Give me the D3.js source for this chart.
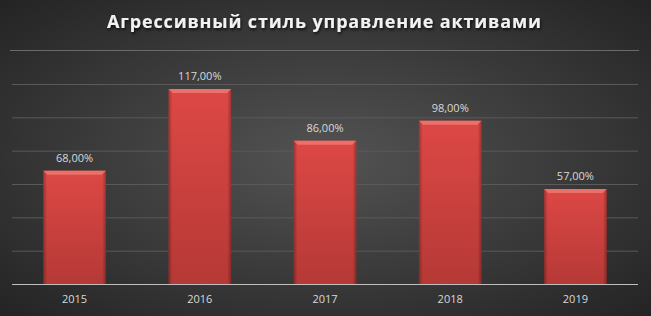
<!DOCTYPE html>
<html>
<head>
<meta charset="utf-8">
<script src="https://cdn.jsdelivr.net/npm/d3@7"></script>
<style>
  body { margin: 0; background: #2b2b2b; }
  svg { display: block; }
  .lbl { font-family: "Open Sans", "Noto Sans", sans-serif; font-size: 11px; fill: #d9d9d9; }
</style>
</head>
<body>
<div id="chart"></div>
<script>
// chart data
var years = ["2015", "2016", "2017", "2018", "2019"];
var values = [68, 117, 86, 98, 57];
var yTicks = [0, 20, 40, 60, 80, 100, 120];
var title = "Агрессивный стиль управление активами";

var W = 651, H = 316;
var margin = { top: 84, right: 13, bottom: 32, left: 12 },
    width = W - margin.left - margin.right,
    height = H - margin.top - margin.bottom;

var svg = d3.select("#chart")
    .append("svg")
    .attr("width", W)
    .attr("height", H);

var defs = svg.append("defs");

// background radial gradient
var bg = defs.append("radialGradient")
    .attr("id", "bg")
    .attr("cx", "50%").attr("cy", "50%").attr("r", "70%");
bg.append("stop").attr("offset", "0%").attr("stop-color", "#535353");
bg.append("stop").attr("offset", "100%").attr("stop-color", "#242424");

// bar gradient
var bar = defs.append("linearGradient")
    .attr("id", "bar")
    .attr("x1", 0).attr("y1", 0).attr("x2", 0).attr("y2", 1);
bar.append("stop").attr("offset", "0%").attr("stop-color", "#dd4845");
bar.append("stop").attr("offset", "100%").attr("stop-color", "#b53936");

var side = defs.append("linearGradient")
    .attr("id", "side")
    .attr("x1", 0).attr("y1", 0).attr("x2", 1).attr("y2", 0);
side.append("stop").attr("offset", "0%").attr("stop-color", "#000").attr("stop-opacity", 0.28);
side.append("stop").attr("offset", "6%").attr("stop-color", "#000").attr("stop-opacity", 0);
side.append("stop").attr("offset", "94%").attr("stop-color", "#000").attr("stop-opacity", 0);
side.append("stop").attr("offset", "100%").attr("stop-color", "#000").attr("stop-opacity", 0.28);

var shadow = defs.append("filter").attr("id", "tshadow")
    .attr("x", "-10%").attr("y", "-30%").attr("width", "120%").attr("height", "180%");
shadow.append("feDropShadow")
    .attr("dx", 1).attr("dy", 2).attr("stdDeviation", 1.5)
    .attr("flood-color", "#000").attr("flood-opacity", 0.7);

svg.append("rect")
    .attr("width", W).attr("height", H)
    .attr("fill", "url(#bg)");

// title
svg.append("text")
    .attr("x", 107)
    .attr("y", 28)
    .attr("textLength", 434)
    .attr("lengthAdjust", "spacing")
    .attr("filter", "url(#tshadow)")
    .style("font-family", "'Open Sans', 'Noto Sans', sans-serif")
    .style("font-size", "18px")
    .style("font-weight", "bold")
    .style("fill", "#f2f2f2")
    .text(title);

// line under the title
svg.append("line")
    .attr("x1", 10).attr("x2", 639)
    .attr("y1", 50.5).attr("y2", 50.5)
    .attr("stroke", "#6a6a6a")
    .attr("stroke-width", 1);

var g = svg.append("g")
    .attr("transform", "translate(" + margin.left + "," + margin.top + ")");

var x = d3.scaleBand()
    .domain(years)
    .range([0, width])
    .paddingInner(0.5)
    .paddingOuter(0.25);

var y = d3.scaleLinear()
    .domain([0, 120])
    .range([height, 0]);

// gridlines
g.append("g")
    .attr("class", "grid")
    .call(d3.axisLeft(y)
        .tickValues(yTicks)
        .tickSize(-width)
        .tickFormat("")
    )
    .call(function (s) {
        s.select(".domain").remove();
        s.selectAll("line").attr("stroke", "#5a5a5a");
    });

// bars
var bars = g.selectAll(".bar")
    .data(values)
    .enter()
    .append("g")
    .attr("class", "bar");

bars.append("rect")
    .attr("x", function (d, i) { return x(years[i]); })
    .attr("y", function (d) { return y(d); })
    .attr("width", x.bandwidth())
    .attr("height", function (d) { return height - y(d); })
    .attr("fill", "url(#bar)");

bars.append("rect")
    .attr("x", function (d, i) { return x(years[i]); })
    .attr("y", function (d) { return y(d); })
    .attr("width", x.bandwidth())
    .attr("height", function (d) { return height - y(d); })
    .attr("fill", "url(#side)");

// top bevel
bars.append("path")
    .attr("d", function (d, i) {
        var x0 = x(years[i]), x1 = x0 + x.bandwidth(), t = y(d);
        return "M" + x0 + "," + t + "L" + x1 + "," + t + "L" + (x1 - 4) + "," + (t + 4) + "L" + (x0 + 4) + "," + (t + 4) + "Z";
    })
    .attr("fill", "#f07a74")
    .attr("opacity", 0.8);

// x axis baseline
g.append("line")
    .attr("x1", 0).attr("x2", width)
    .attr("y1", height + 0.5).attr("y2", height + 0.5)
    .attr("stroke", "#bfbfbf");

// value labels
g.selectAll(".val")
    .data(values)
    .enter()
    .append("text")
    .attr("class", "lbl")
    .attr("text-anchor", "middle")
    .attr("x", function (d, i) { return x(years[i]) + x.bandwidth() / 2; })
    .attr("y", function (d) { return y(d) - 9; })
    .text(function (d) { return d3.format(".2f")(d).replace(".", ",") + "%"; });

// year labels
g.selectAll(".yr")
    .data(years)
    .enter()
    .append("text")
    .attr("class", "lbl")
    .attr("text-anchor", "middle")
    .attr("x", function (d) { return x(d) + x.bandwidth() / 2; })
    .attr("y", height + 19)
    .text(function (d) { return d; });
</script>
</body>
</html>
